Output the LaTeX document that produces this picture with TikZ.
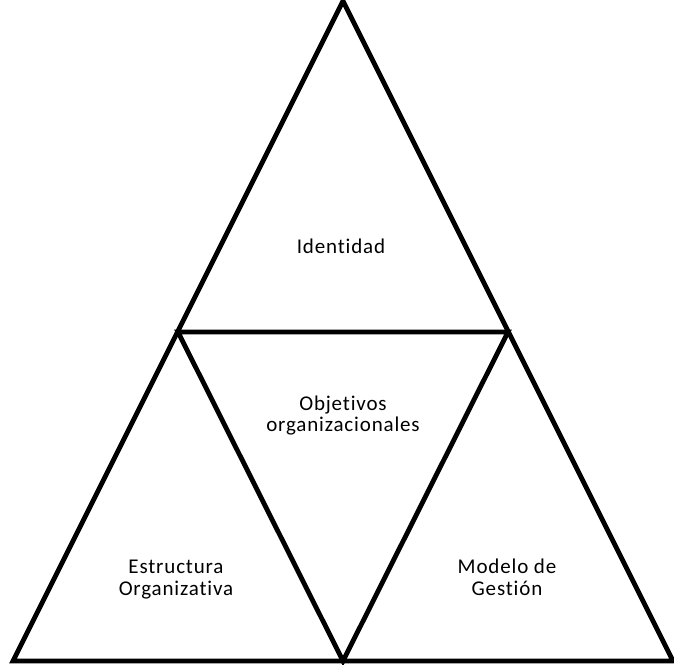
\documentclass[tikz,border=0pt]{standalone}
\usepackage{fontspec}
\setmainfont[Ligatures={NoCommon,NoContextual},LetterSpace=4]{Carlito}
\usetikzlibrary{positioning}

\begin{document}
\begin{tikzpicture}[x=0.5pt,y=0.5pt]
        \useasboundingbox (0,0) rectangle (674,664);
        \tikzset{lbl/.style={align=center,anchor=base,inner sep=0pt,font=\fontsize{10.5}{10.6}\selectfont}}
        \coordinate (top) at (343,663);
        \coordinate (bl) at (13,3);
        \coordinate (br) at (673,3);
        \coordinate (ml) at (178,332);
        \coordinate (mr) at (508,332);
        \coordinate (mb) at (343,3);
        \draw[line width=2.4pt, line join=miter] (top) -- (br) -- (bl) -- cycle;
        \draw[line width=2.4pt, line join=miter] (ml) -- (mr) -- (mb) -- cycle;
        \node[lbl] (ident) at (341,410) {Identidad};
        \node[lbl] (obj) at (343,232) {Objetivos\\organizacionales};
        \node[lbl] (estr) at (176,69) {Estructura\\Organizativa};
        \node[lbl] (mod) at (507,69) {Modelo de\\Gestión};
    \end{tikzpicture}
\end{document}
